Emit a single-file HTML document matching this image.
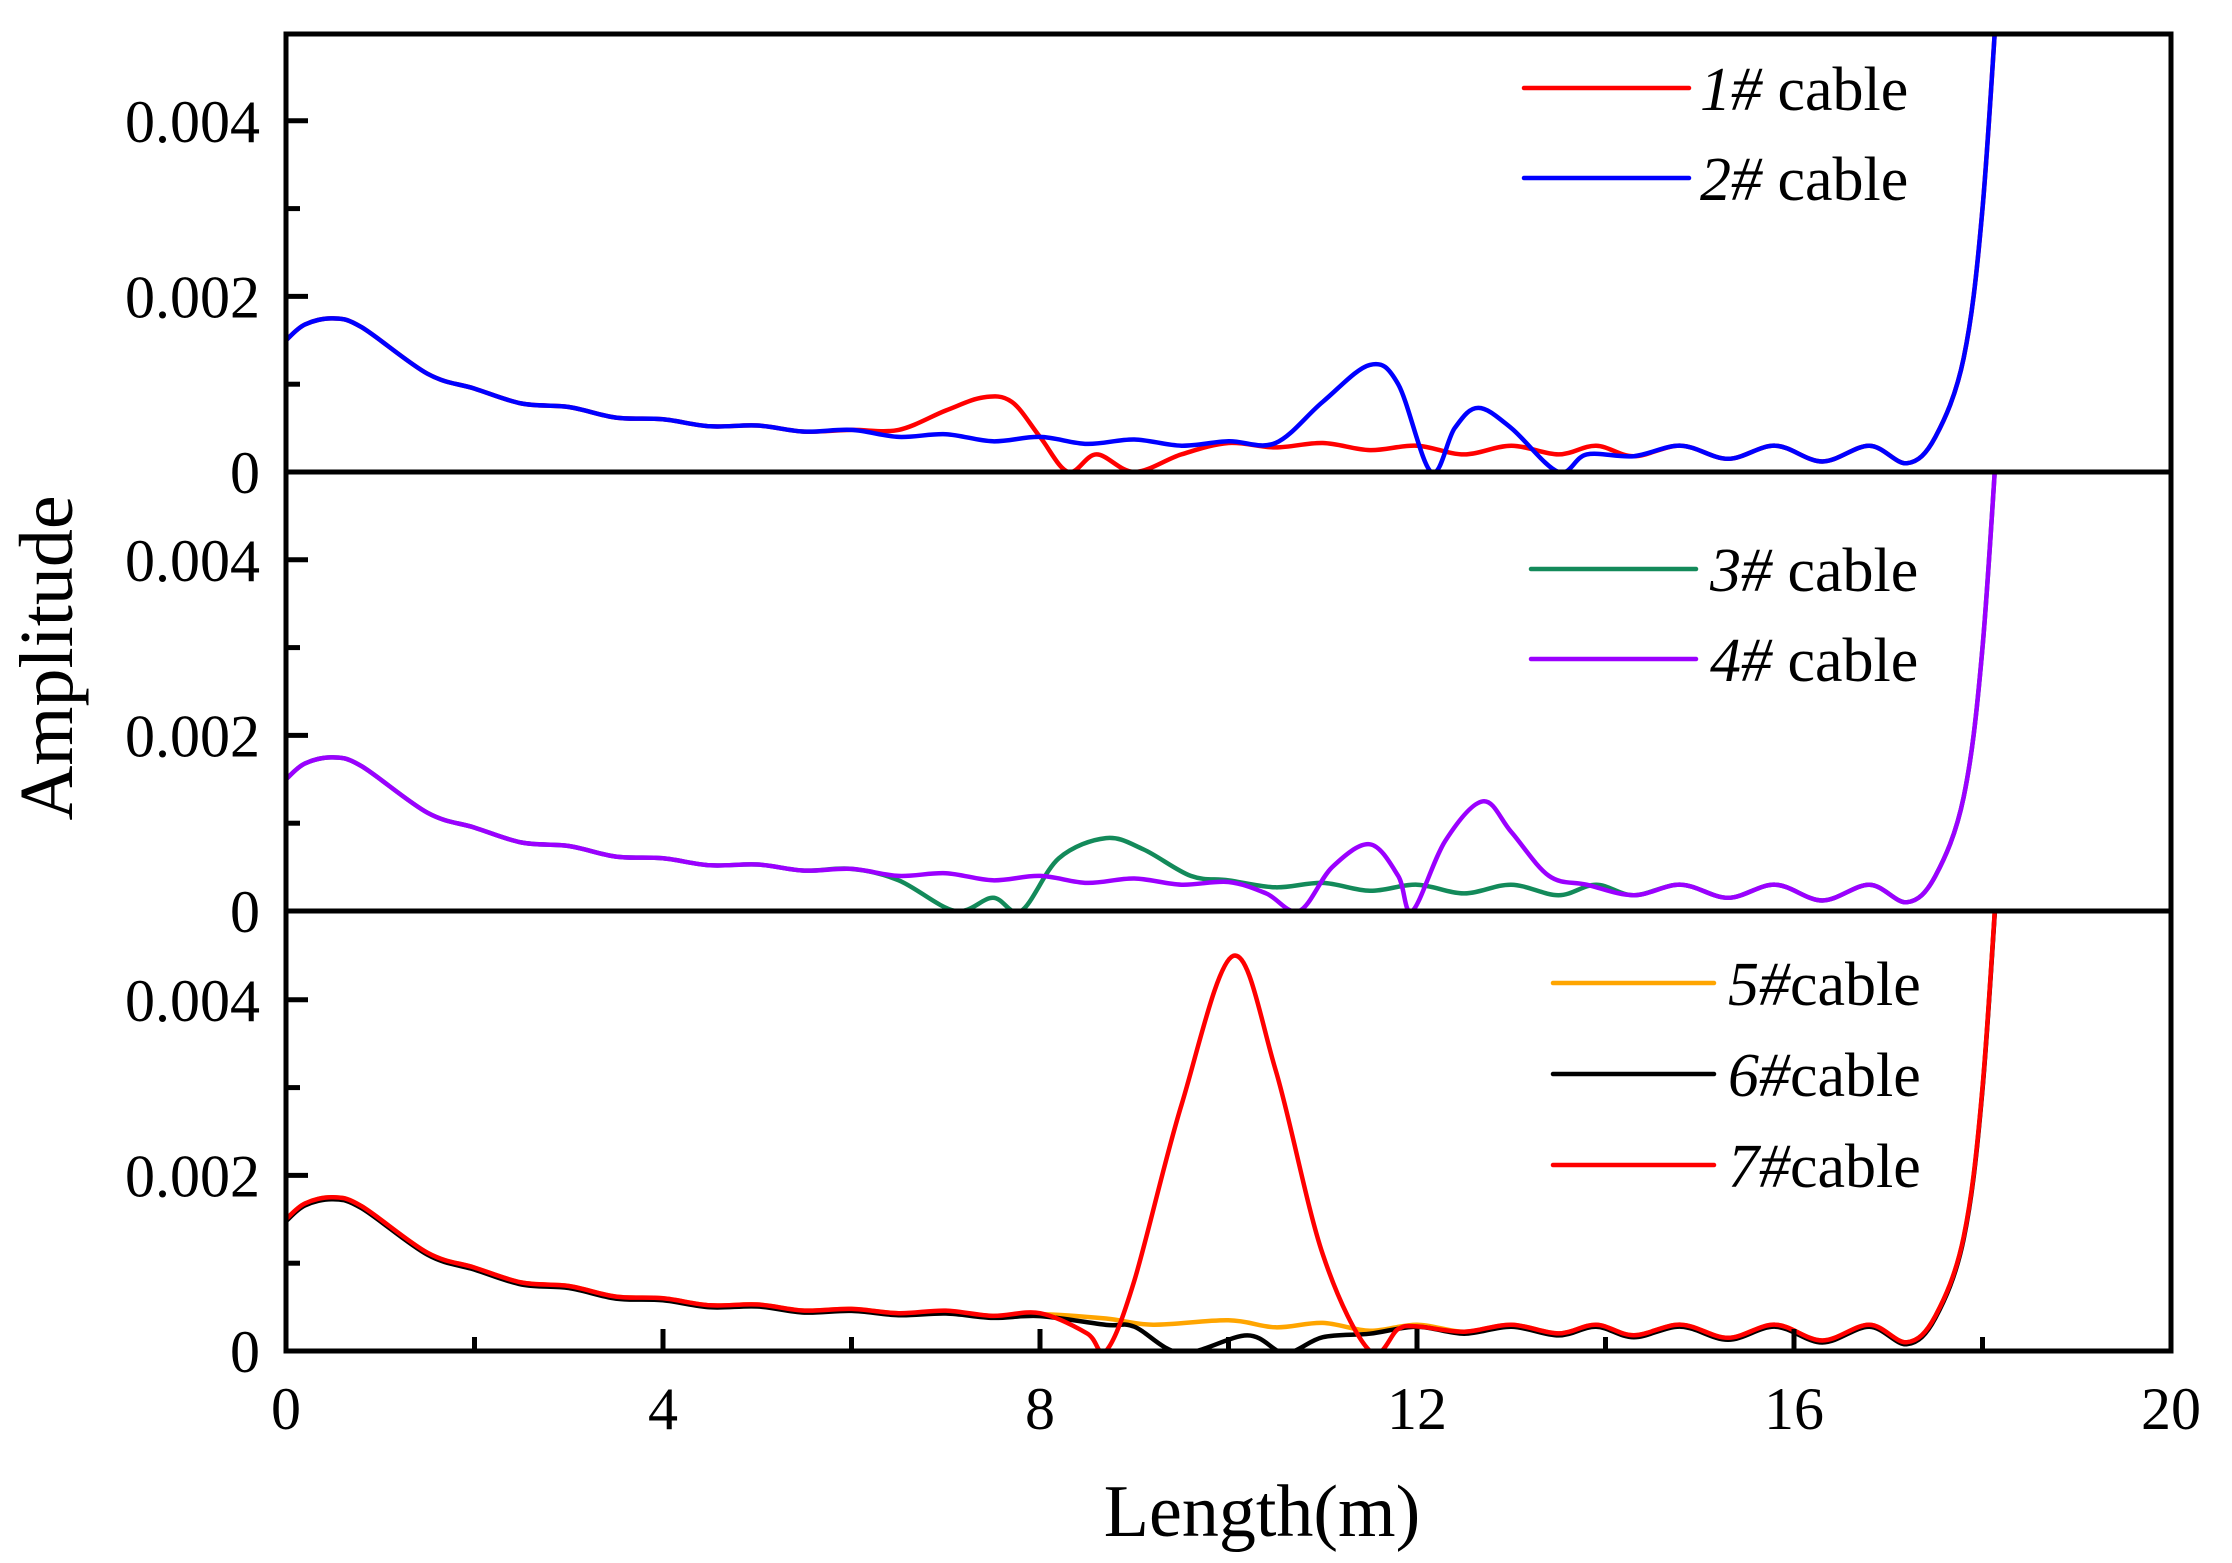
<!DOCTYPE html>
<html><head><meta charset="utf-8"><style>
html,body{margin:0;padding:0;background:#fff;}
svg{display:block;font-family:"Liberation Serif",serif;}
</style></head><body>
<svg id="s" width="2232" height="1563" viewBox="0 0 2232 1563" xmlns="http://www.w3.org/2000/svg">
<defs>
<clipPath id="c0"><rect x="286" y="34" width="1885" height="438"/></clipPath>
<clipPath id="c1"><rect x="286" y="472" width="1885" height="439"/></clipPath>
<clipPath id="c2"><rect x="286" y="911" width="1885" height="440"/></clipPath>
</defs>
<g id="curves"></g>
<g id="axes" stroke="#000" stroke-width="5" fill="none">
<rect x="286" y="34" width="1885" height="1317"/>
<line x1="286" y1="472" x2="2171" y2="472"/>
<line x1="286" y1="911" x2="2171" y2="911"/>
</g>
<g id="ticks" stroke="#000" stroke-width="5"></g>
<g font-size="60" text-anchor="end" id="ylab"></g>
<g font-size="60" text-anchor="middle" id="xlab">
<text transform="translate(72,658) rotate(-90)" font-size="76">Amplitude</text>
<text x="1262" y="1536" font-size="74">Length(m)</text>
</g>
<g stroke-width="4.5" stroke-linecap="round">
<line x1="1524" y1="88" x2="1689" y2="88" stroke="#ff0000"/>
<line x1="1524" y1="178" x2="1689" y2="178" stroke="#0000ff"/>
<line x1="1531" y1="569" x2="1696" y2="569" stroke="#138a5a"/>
<line x1="1531" y1="659" x2="1696" y2="659" stroke="#9b00ff"/>
<line x1="1553" y1="983" x2="1714" y2="983" stroke="#ffa500"/>
<line x1="1553" y1="1074" x2="1714" y2="1074" stroke="#000"/>
<line x1="1553" y1="1165" x2="1714" y2="1165" stroke="#ff0000"/>
</g>
<g font-size="62">
<text x="1700" y="110"><tspan font-style="italic">1#</tspan> cable</text>
<text x="1700" y="200"><tspan font-style="italic">2#</tspan> cable</text>
<text x="1710" y="591"><tspan font-style="italic">3#</tspan> cable</text>
<text x="1710" y="681"><tspan font-style="italic">4#</tspan> cable</text>
<text x="1728" y="1005"><tspan font-style="italic">5#</tspan>cable</text>
<text x="1728" y="1096"><tspan font-style="italic">6#</tspan>cable</text>
<text x="1728" y="1187"><tspan font-style="italic">7#</tspan>cable</text>
</g>
</svg>
<script>
const X0=286,XS=(2171-286)/20,ZER=[472,911,1351],H=439;
const NS="http://www.w3.org/2000/svg";
function px(x){return X0+x*XS}
function py(p,a){return ZER[p]-a/0.005*H}
const head=[[0,0.0015],[0.2,0.00168],[0.5,0.00175],[0.8,0.00165],[1.5,0.00112],[2,0.00095],[2.5,0.00078],[3,0.00074],[3.5,0.00062],[4,0.0006],[4.5,0.00052],[5,0.00053],[5.5,0.00046],[6,0.00048]];
const tail=[[14.3,0.00018],[14.8,0.0003],[15.3,0.00015],[15.8,0.0003],[16.3,0.00012],[16.8,0.0003],[17.2,0.0001],[17.5,0.0004],[17.8,0.0013],[18,0.003],[18.2,0.0062]];
const mid=[[6.5,0.0004],[7,0.00043],[7.5,0.00035],[8,0.0004],[8.5,0.00032],[9,0.00037],[9.5,0.0003],[10,0.00035]];
const osc=[[12.5,0.00022],[13,0.0003],[13.5,0.0002],[13.9,0.0003]];
const S={
 red1:[...head,[6.5,0.00048],[7,0.0007],[7.4,0.00085],[7.7,0.0008],[8,0.0004],[8.3,0],[8.6,0.0002],[9,0],[9.5,0.0002],[10,0.00033],[10.5,0.00028],[11,0.00033],[11.5,0.00025],[12,0.0003],[12.5,0.0002],[13,0.0003],[13.5,0.0002],[13.9,0.0003],...tail],
 blue:[...head,...mid,[10.5,0.00033],[11,0.0008],[11.5,0.00122],[11.8,0.001],[12.15,0],[12.4,0.0005],[12.65,0.00073],[13,0.0005],[13.5,0],[13.8,0.0002],...tail],
 green:[...head,[6.5,0.00035],[7.1,0],[7.5,0.00015],[7.8,0],[8.2,0.0006],[8.7,0.00083],[9.1,0.0007],[9.6,0.0004],[10,0.00035],[10.5,0.00027],[11,0.00032],[11.5,0.00023],[12,0.0003],[12.5,0.0002],[13,0.0003],[13.5,0.00018],[13.9,0.0003],...tail],
 purple:[...head,...mid.slice(0,7),[10,0.00033],[10.4,0.0002],[10.75,0],[11.1,0.0005],[11.5,0.00076],[11.8,0.0004],[11.95,0],[12.3,0.0008],[12.7,0.00125],[13,0.0009],[13.4,0.0004],[13.8,0.0003],...tail],
 orange:[...head,[6.5,0.00043],[7,0.00045],[7.5,0.0004],[8,0.00042],[8.7,0.00037],[9.2,0.0003],[10,0.00035],[10.5,0.00027],[11,0.00032],[11.5,0.00023],[12,0.0003],...osc,...tail],
 black:[...head,[6.5,0.00043],[7,0.00045],[7.5,0.0004],[8,0.00042],[8.7,0.00032],[9,0.0003],[9.5,0],[10.2,0.0002],[10.6,0],[11,0.00018],[11.5,0.00022],[12,0.0003],...osc,...tail],
 red3:[...head,[6.5,0.00043],[7,0.00046],[7.5,0.0004],[8,0.00043],[8.5,0.0002],[8.7,0],[9,0.0008],[9.5,0.0028],[10.05,0.0045],[10.5,0.0032],[11,0.0011],[11.5,0],[11.8,0.00025],[12,0.00028],...osc,...tail]
};
function path(pts,p,dy){
 const P=pts.map(q=>[px(q[0]),py(p,q[1])+(dy||0)]);
 let d="M"+P[0][0].toFixed(1)+","+P[0][1].toFixed(1);
 for(let i=0;i<P.length-1;i++){
  const a=P[Math.max(0,i-1)],b=P[i],c=P[i+1],e=P[Math.min(P.length-1,i+2)];
  const c1=[b[0]+(c[0]-a[0])/6,b[1]+(c[1]-a[1])/6],c2=[c[0]-(e[0]-b[0])/6,c[1]-(e[1]-b[1])/6];
  d+="C"+c1.map(v=>v.toFixed(1))+" "+c2.map(v=>v.toFixed(1))+" "+c.map(v=>v.toFixed(1));
 }
 return d;
}
const g=document.getElementById("curves");
[["red1",0,"#ff0000"],["blue",0,"#0000ff"],["green",1,"#138a5a"],["purple",1,"#9b00ff"],["orange",2,"#ffa500"],["black",2,"#000",2],["red3",2,"#ff0000"]].forEach(s=>{
 const e=document.createElementNS(NS,"path");
 e.setAttribute("d",path(S[s[0]],s[1],s[3]));
 e.setAttribute("fill","none");e.setAttribute("stroke",s[2]);e.setAttribute("stroke-width","4.5");
 e.setAttribute("clip-path","url(#c"+s[1]+")");g.appendChild(e);
});
const t=document.getElementById("ticks"),yl=document.getElementById("ylab"),xl=document.getElementById("xlab");
function ln(x1,y1,x2,y2){const e=document.createElementNS(NS,"line");e.setAttribute("x1",x1);e.setAttribute("y1",y1);e.setAttribute("x2",x2);e.setAttribute("y2",y2);t.appendChild(e);}
function tx(par,x,y,s){const e=document.createElementNS(NS,"text");e.setAttribute("x",x);e.setAttribute("y",y);e.textContent=s;par.appendChild(e);}
for(let p=0;p<3;p++){
 [0.001,0.002,0.003,0.004].forEach((v,i)=>{const y=py(p,v);ln(286,y,286+(i%2?22:14),y);});
 [["0",0],["0.002",0.002],["0.004",0.004]].forEach(l=>tx(yl,260,py(p,l[1])+21,l[0]));
}
for(let x=2;x<20;x+=2){ln(px(x),1351,px(x),1351-(x%4?14:22));}
for(let x=0;x<=20;x+=4){tx(xl,px(x),1429,String(x));}
</script>
</body></html>
